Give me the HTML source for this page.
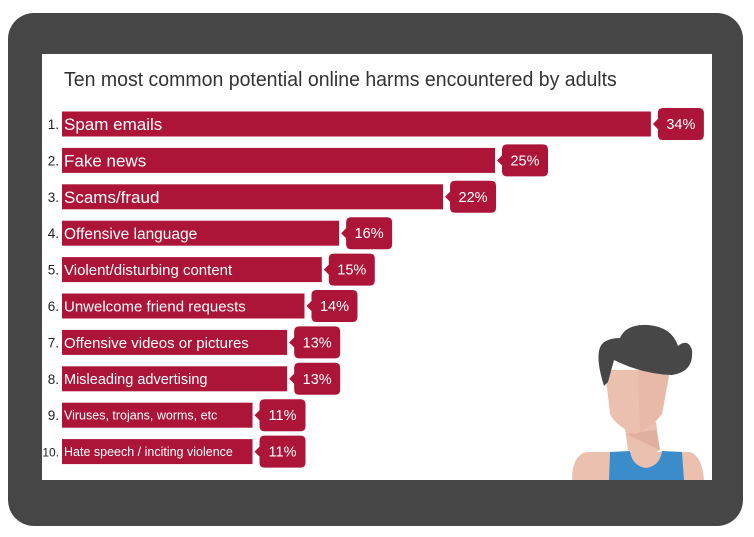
<!DOCTYPE html>
<html><head><meta charset="utf-8"><style>
body{margin:0;width:754px;height:537px;background:#fff;overflow:hidden;font-family:"Liberation Sans",sans-serif}
#frame{position:absolute;left:8px;top:13px;width:735px;height:513px;background:#464646;border-radius:26px}
#screen{position:absolute;left:42px;top:54px;width:670px;height:426px;background:#fff;overflow:hidden}
#title{position:absolute;left:22px;top:15px;font-size:20px;color:#333;white-space:nowrap;transform:scaleX(0.975);transform-origin:left}
</style></head><body>
<div id="frame"></div>
<div id="screen">
<div id="title">Ten most common potential online harms encountered by adults</div>
<svg id="chart" width="670" height="426" style="position:absolute;left:0;top:0">
<g>
<path d="M530 426 Q530 402 544 398 L648 398 Q660 402 662 426Z" fill="#ecc0ae"/>
<path d="M568 398 L588 397 Q590 412 604 414 Q618 412 620 397 L640 398 L642 426 L567 426Z" fill="#3a8ccb"/>
<path d="M582 368 L614 368 L618 396 Q602 406 586 396Z" fill="#ecc0ae"/>
<path d="M584 380 L614 376 L618 396Z" fill="#deb09d"/>
<path d="M563 316 L628 316 L620 360 Q608 376 592 380 Q574 372 568 360Z" fill="#ecc0ae"/>
<path d="M596 316 L628 316 L620 360 Q610 372 598 378Z" fill="#e8b9a6"/>
<path d="M562 332 Q552 300 560 290 Q566 284 578 284 Q584 270 606 271 Q630 273 636 292 Q646 284 650 296 Q652 318 630 321 Q600 320 572 306 L566 328Z" fill="#474747"/>
</g>
</svg>
</div>
<script>
const categories=["Spam emails","Fake news","Scams/fraud","Offensive language","Violent/disturbing content","Unwelcome friend requests","Offensive videos or pictures","Misleading advertising","Viruses, trojans, worms, etc","Hate speech / inciting violence"];
const values=[34,25,22,16,15,14,13,13,11,11];
const labelSizes=[17,17,17,15.5,15,15,15,14.5,12.5,12.5];
const svg=document.getElementById('chart');
const NS='http://www.w3.org/2000/svg';
const x0=20, pxPer=17.32;
function xScale(v){return x0+v*pxPer;}
function yCenter(i){return 70+i*36.4;}
categories.forEach((c,i)=>{
  const yc=yCenter(i), xe=xScale(values[i]);
  const g=document.createElementNS(NS,'g');
  
  
  const num=document.createElementNS(NS,'text');
  
  
  num.setAttribute('x',x0-3);num.setAttribute('y',yc+5);num.setAttribute('text-anchor','end');
  num.setAttribute('font-size',i==9?12:13.5);num.setAttribute('fill','#222');num.textContent=(i+1)+'.';
  g.appendChild(num);
  const r=document.createElementNS(NS,'rect');
  
  
  r.setAttribute('x',x0);r.setAttribute('y',yc-12.5);r.setAttribute('width',xe-x0);r.setAttribute('height',25);r.setAttribute('fill','#ad1538');
  g.appendChild(r);
  const t=document.createElementNS(NS,'text');
  
  
  t.setAttribute('x',x0+2);t.setAttribute('y',yc+labelSizes[i]*0.36);t.setAttribute('font-size',labelSizes[i]);t.setAttribute('fill','#fff');t.textContent=c;
  g.appendChild(t);
  const bx=xe+7,bw=46,bh=32,by=yc-16;
  const b=document.createElementNS(NS,'path');
  
  
  b.setAttribute('d',`M${bx+5} ${by} H${bx+bw-5} Q${bx+bw} ${by} ${bx+bw} ${by+5} V${by+bh-5} Q${bx+bw} ${by+bh} ${bx+bw-5} ${by+bh} H${bx+5} Q${bx} ${by+bh} ${bx} ${by+bh-5} V${yc+5} L${bx-5} ${yc} L${bx} ${yc-5} V${by+5} Q${bx} ${by} ${bx+5} ${by}Z`);
  b.setAttribute('fill','#ad1538');
  g.appendChild(b);
  const vt=document.createElementNS(NS,'text');
  
  
  vt.setAttribute('x',bx+bw/2);vt.setAttribute('y',yc+5);vt.setAttribute('text-anchor','middle');vt.setAttribute('font-size',14.5);vt.setAttribute('fill','#fff');
  vt.textContent=values[i]+'%';
  g.appendChild(vt);
  svg.appendChild(g);
});
</script>
</body></html>
